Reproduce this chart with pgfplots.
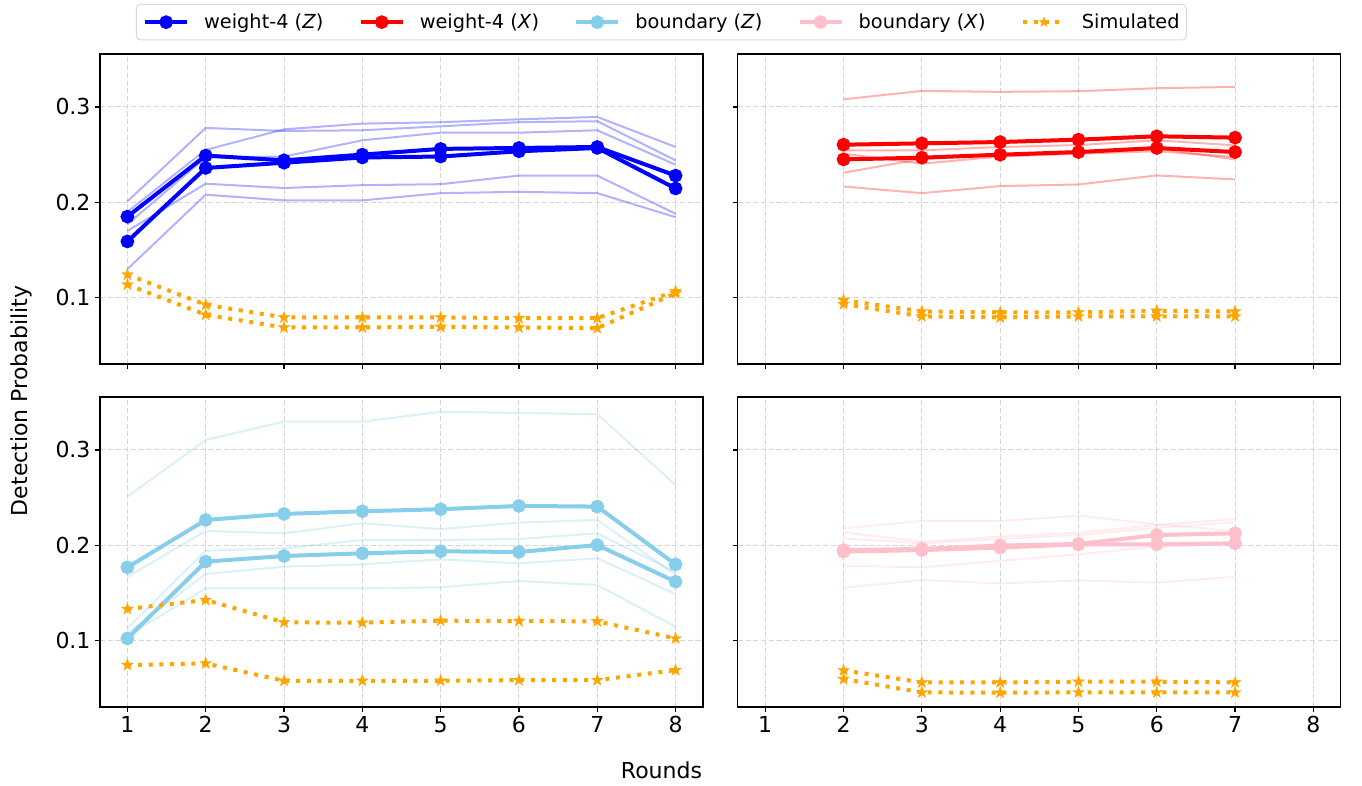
\documentclass[border=0pt]{standalone}
\usepackage{fontspec}
\setmainfont{DejaVu Sans}
\usepackage{pgfplots}
\pgfplotsset{compat=1.18}

\definecolor{w4z}{RGB}{0,0,255}
\definecolor{w4x}{RGB}{255,0,0}
\definecolor{bz}{RGB}{135,206,235}
\definecolor{bx}{RGB}{255,192,203}
\definecolor{sim}{RGB}{255,165,0}
\definecolor{gridc}{RGB}{214,214,214}

\pgfdeclareplotmark{fstar}{%
  \pgfpathmoveto{\pgfpointpolar{90}{\pgfplotmarksize}}%
  \pgfpathlineto{\pgfpointpolar{126}{0.382\pgfplotmarksize}}%
  \pgfpathlineto{\pgfpointpolar{162}{\pgfplotmarksize}}%
  \pgfpathlineto{\pgfpointpolar{198}{0.382\pgfplotmarksize}}%
  \pgfpathlineto{\pgfpointpolar{234}{\pgfplotmarksize}}%
  \pgfpathlineto{\pgfpointpolar{270}{0.382\pgfplotmarksize}}%
  \pgfpathlineto{\pgfpointpolar{306}{\pgfplotmarksize}}%
  \pgfpathlineto{\pgfpointpolar{342}{0.382\pgfplotmarksize}}%
  \pgfpathlineto{\pgfpointpolar{18}{\pgfplotmarksize}}%
  \pgfpathlineto{\pgfpointpolar{54}{0.382\pgfplotmarksize}}%
  \pgfpathclose
  \pgfusepathqfillstroke}

\pgfplotsset{
  panel/.style={
    scale only axis, width=452.25pt, height=232.5pt,
    xmin=0.65, xmax=8.35, ymin=0.0305, ymax=0.3555,
    xtick={1,2,3,4,5,6,7,8}, ytick={0.1,0.2,0.3},
    grid=major,
    grid style={gridc, line width=0.75pt, dash pattern=on 3.8pt off 2pt},
    tick align=outside, xtick pos=left, ytick pos=left,
    major tick length=3.6pt,
    tick style={black, line width=0.9pt},
    axis line style={black, line width=0.9pt},
    tick label style={font=\fontsize{16.5}{19}\selectfont},
    /pgf/number format/assume math mode=true,
    yticklabel style={/pgf/number format/fixed,/pgf/number format/precision=1},
    legend image code/.code={\draw[mark repeat=2,mark phase=2,##1] plot coordinates {(0pt,0pt) (15.75pt,0pt) (31.5pt,0pt)};},
  },
  thickl/.style={line width=3pt, mark=*, mark size=3.6pt, mark options={solid}},
  thinl/.style={line width=1.5pt, opacity=0.3, no markers},
  siml/.style={color=sim, line width=3pt, dash pattern=on 3pt off 5pt, mark=fstar, mark size=4.6pt, mark options={solid, fill=sim, draw=sim, line width=0.3pt}},
}

\begin{document}
\begin{tikzpicture}
\path[use as bounding box] (0pt,0pt) rectangle (1021.5pt,588.75pt);

% ---------- top left: weight-4 (Z)
\begin{axis}[panel, at={(75pt,315.75pt)}, anchor=south west,
  xticklabels={},
  legend style={at={(0.931,1.1613)}, anchor=north, legend columns=5,
    draw=gray!30, rounded corners=3pt, line width=0.75pt,
    font=\fontsize{14.5}{17}\selectfont, inner xsep=5pt, inner ysep=6pt,
    nodes={inner xsep=0pt, inner ysep=1pt},
    /tikz/every odd column/.append style={column sep=11.25pt},
    /tikz/every even column/.append style={column sep=26.5pt}},
  legend cell align=left]
\addlegendimage{w4z, thickl}
\addlegendentry{weight-4 (\textit{Z})}
\addlegendimage{w4x, thickl}
\addlegendentry{weight-4 (\textit{X})}
\addlegendimage{bz, thickl}
\addlegendentry{boundary (\textit{Z})}
\addlegendimage{bx, thickl}
\addlegendentry{boundary (\textit{X})}
\addlegendimage{siml, mark size=3.8pt}
\addlegendentry{Simulated}

\addplot[w4z, thinl, forget plot] coordinates {(1,0.201)(2,0.278)(3,0.2748)(4,0.2755)(5,0.2797)(6,0.284)(7,0.285)(8,0.244)};
\addplot[w4z, thinl, forget plot] coordinates {(1,0.190)(2,0.255)(3,0.2765)(4,0.2825)(5,0.284)(6,0.287)(7,0.2895)(8,0.258)};
\addplot[w4z, thinl, forget plot] coordinates {(1,0.177)(2,0.247)(3,0.248)(4,0.265)(5,0.273)(6,0.273)(7,0.2755)(8,0.2394)};
\addplot[w4z, thinl, forget plot] coordinates {(1,0.170)(2,0.2195)(3,0.215)(4,0.218)(5,0.219)(6,0.228)(7,0.228)(8,0.188)};
\addplot[w4z, thinl, forget plot] coordinates {(1,0.130)(2,0.208)(3,0.202)(4,0.202)(5,0.2096)(6,0.211)(7,0.2096)(8,0.1844)};
\addplot[w4z, thickl, forget plot] coordinates {(1,0.185)(2,0.249)(3,0.244)(4,0.250)(5,0.256)(6,0.257)(7,0.258)(8,0.228)};
\addplot[w4z, thickl, forget plot] coordinates {(1,0.159)(2,0.236)(3,0.2415)(4,0.247)(5,0.248)(6,0.2535)(7,0.257)(8,0.2145)};
\addplot[siml, forget plot] coordinates {(1,0.1242)(2,0.0926)(3,0.0793)(4,0.0793)(5,0.0793)(6,0.0786)(7,0.0786)(8,0.1067)};
\addplot[siml, forget plot] coordinates {(1,0.1137)(2,0.0821)(3,0.0688)(4,0.0688)(5,0.0695)(6,0.0688)(7,0.0681)(8,0.1046)};
\end{axis}

% ---------- top right: weight-4 (X)
\begin{axis}[panel, at={(553.35pt,315.75pt)}, anchor=south west,
  xticklabels={}, yticklabels={}]
\addplot[w4x, thinl] coordinates {(2,0.308)(3,0.3168)(4,0.3158)(5,0.3165)(6,0.3196)(7,0.321)};
\addplot[w4x, thinl] coordinates {(2,0.2166)(3,0.2096)(4,0.217)(5,0.2187)(6,0.2282)(7,0.224)};
\addplot[w4x, thinl] coordinates {(2,0.231)(3,0.2455)(4,0.250)(5,0.2525)(6,0.2565)(7,0.245)};
\addplot[w4x, thinl] coordinates {(2,0.2545)(3,0.2545)(4,0.258)(5,0.260)(6,0.265)(7,0.2597)};
\addplot[w4x, thinl] coordinates {(2,0.251)(3,0.2405)(4,0.248)(5,0.251)(6,0.2535)(7,0.2475)};
\addplot[w4x, thickl] coordinates {(2,0.2604)(3,0.2618)(4,0.2632)(5,0.2657)(6,0.2692)(7,0.2678)};
\addplot[w4x, thickl] coordinates {(2,0.245)(3,0.2468)(4,0.2499)(5,0.2527)(6,0.2569)(7,0.2527)};
\addplot[siml] coordinates {(2,0.0975)(3,0.0856)(4,0.0846)(5,0.0846)(6,0.0863)(7,0.0856)};
\addplot[siml] coordinates {(2,0.0933)(3,0.0804)(4,0.0793)(5,0.0804)(6,0.0804)(7,0.0804)};
\end{axis}

% ---------- bottom left: boundary (Z)
\begin{axis}[panel, at={(75pt,58.5pt)}, anchor=south west]
\addplot[bz, thinl] coordinates {(1,0.251)(2,0.3105)(3,0.3297)(4,0.3297)(5,0.340)(6,0.3388)(7,0.3374)(8,0.2633)};
\addplot[bz, thinl] coordinates {(1,0.167)(2,0.215)(3,0.2126)(4,0.2231)(5,0.2171)(6,0.2238)(7,0.2266)(8,0.169)};
\addplot[bz, thinl] coordinates {(1,0.113)(2,0.1944)(3,0.1969)(4,0.2056)(5,0.2056)(6,0.2066)(7,0.2126)(8,0.172)};
\addplot[bz, thinl] coordinates {(1,0.108)(2,0.170)(3,0.1776)(4,0.180)(5,0.1853)(6,0.1811)(7,0.1864)(8,0.149)};
\addplot[bz, thinl] coordinates {(1,0.105)(2,0.1549)(3,0.1549)(4,0.1549)(5,0.156)(6,0.1626)(7,0.1584)(8,0.1147)};
\addplot[bz, thickl] coordinates {(1,0.1769)(2,0.2266)(3,0.2329)(4,0.2357)(5,0.2378)(6,0.2413)(7,0.2406)(8,0.180)};
\addplot[bz, thickl] coordinates {(1,0.1024)(2,0.1829)(3,0.1888)(4,0.1916)(5,0.1937)(6,0.193)(7,0.2003)(8,0.1619)};
\addplot[siml] coordinates {(1,0.1332)(2,0.1427)(3,0.1192)(4,0.1189)(5,0.121)(6,0.1206)(7,0.1203)(8,0.1024)};
\addplot[siml] coordinates {(1,0.0745)(2,0.0762)(3,0.058)(4,0.058)(5,0.058)(6,0.0587)(7,0.0587)(8,0.0692)};
\end{axis}

% ---------- bottom right: boundary (X)
\begin{axis}[panel, at={(553.35pt,58.5pt)}, anchor=south west, yticklabels={}]
\addplot[bx, thinl] coordinates {(2,0.2178)(3,0.2255)(4,0.2255)(5,0.2311)(6,0.222)(7,0.215)};
\addplot[bx, thinl] coordinates {(2,0.2136)(3,0.2038)(4,0.2091)(5,0.2133)(6,0.2213)(7,0.2276)};
\addplot[bx, thinl] coordinates {(2,0.2073)(3,0.2021)(4,0.2066)(5,0.2108)(6,0.2185)(7,0.2241)};
\addplot[bx, thinl] coordinates {(2,0.1787)(3,0.1769)(4,0.1836)(5,0.1906)(6,0.1986)(7,0.2010)};
\addplot[bx, thinl] coordinates {(2,0.1556)(3,0.1636)(4,0.1601)(5,0.1633)(6,0.1608)(7,0.1671)};
\addplot[bx, thickl] coordinates {(2,0.195)(3,0.1962)(4,0.1997)(5,0.2014)(6,0.2108)(7,0.2126)};
\addplot[bx, thickl] coordinates {(2,0.1934)(3,0.195)(4,0.1976)(5,0.201)(6,0.201)(7,0.2021)};
\addplot[siml] coordinates {(2,0.0689)(3,0.0563)(4,0.0563)(5,0.057)(6,0.057)(7,0.0563)};
\addplot[siml] coordinates {(2,0.0598)(3,0.0458)(4,0.0455)(5,0.0458)(6,0.0458)(7,0.0458)};
\end{axis}

\node[rotate=90, font=\fontsize{16.5}{19}\selectfont] at (15.75pt,288pt) {Detection Probability};
\node[font=\fontsize{16.5}{19}\selectfont] at (496.1pt,11.25pt) {Rounds};
\end{tikzpicture}
\end{document}
